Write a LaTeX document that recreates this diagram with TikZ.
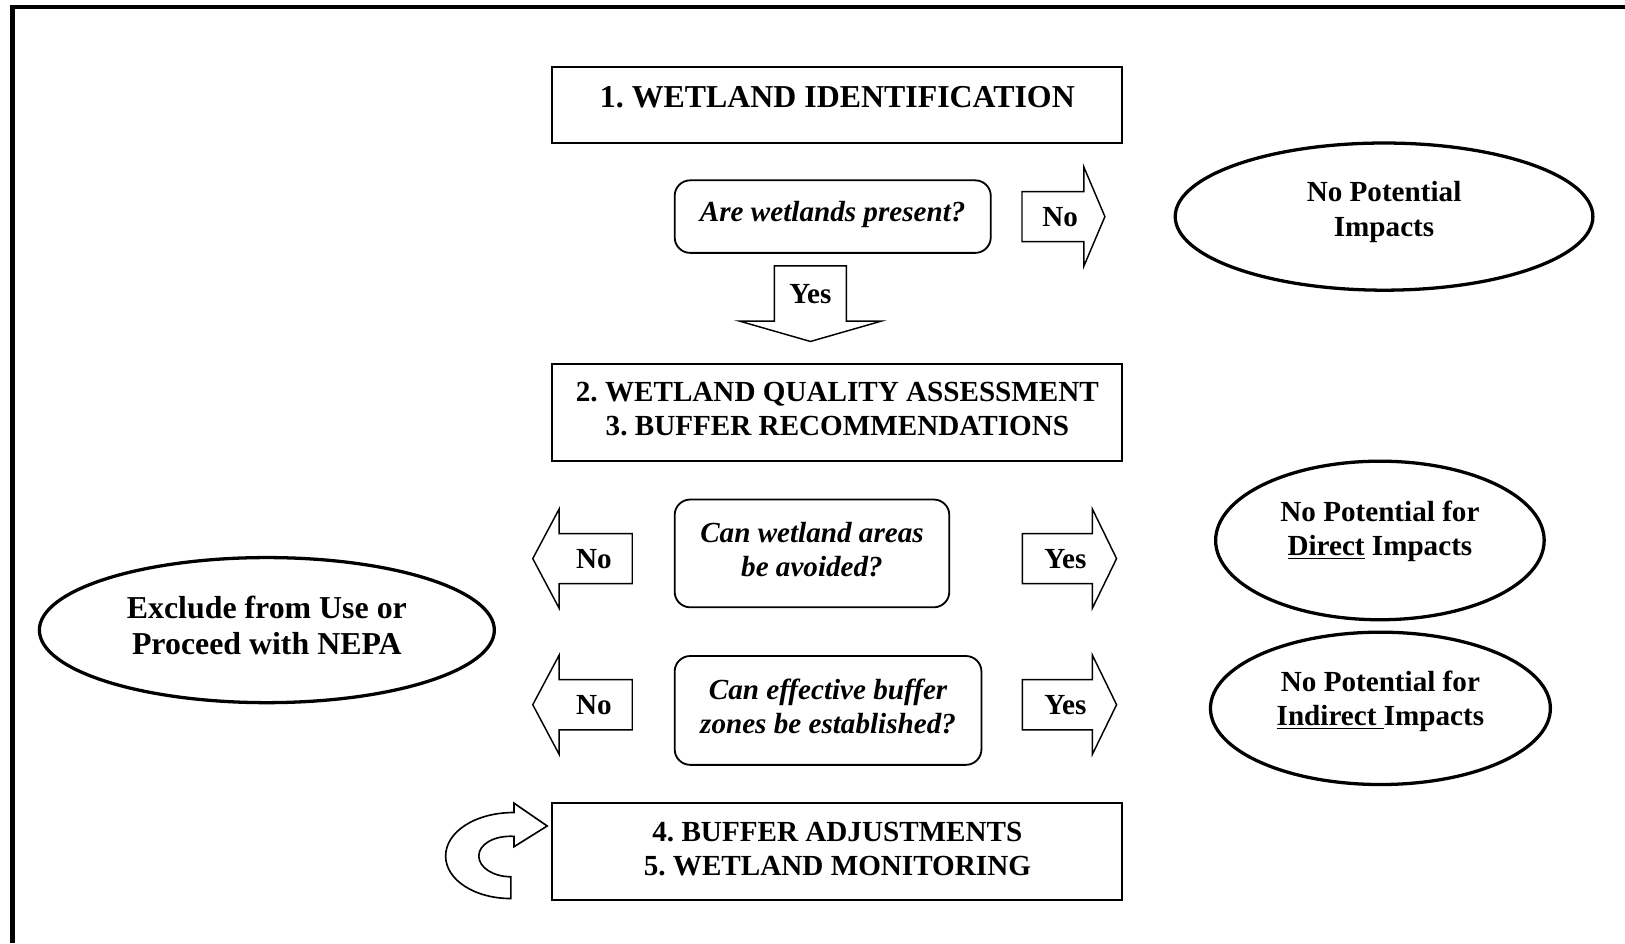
\documentclass[tikz,border=0pt]{standalone}
\usepackage{fontspec}
\setmainfont{Liberation Serif}
\usepackage{tikz}
\usetikzlibrary{
  shapes.geometric,
  shapes.arrows,
  positioning}
\frenchspacing

\tikzset{
  stage/.style={draw,line width=1.1pt,minimum width=110mm,inner sep=0pt},
  query/.style={draw,line width=1pt,rounded corners=3mm,inner sep=0pt},
  outcome/.style={draw,ellipse,line width=1.8pt,inner sep=0pt},
  txt/.style={font=\fontsize{16}{18.8}\selectfont\bfseries,align=center,inner sep=0pt},
  qtxt/.style={txt,font=\fontsize{16}{18.8}\selectfont\bfseries\itshape},
  bigtxt/.style={txt,font=\fontsize{17.5}{20}\selectfont\bfseries},
  blockarrow/.style={draw,single arrow,line width=0.8pt,inner xsep=0pt,inner ysep=4.7mm,
    minimum width=18.8mm,single arrow head extend=4.7mm,single arrow head indent=0pt},
  every label/.style={txt}
}

\begin{document}
\begin{tikzpicture}[x=0.2mm,y=-0.2mm]
        \useasboundingbox (0,0) rectangle (1568,910);
        \draw[line width=2.3pt] (12,910) -- (12,7) -- (1568,7);

        % stages
        \node[stage,minimum height=14.6mm] (ident) at (808,101.5) {};
        \node[bigtxt] (identT) at ([yshift=1.5mm]ident.center) {1. WETLAND IDENTIFICATION};
        \node[stage,minimum height=18.8mm] (assess) at (808,398) {};
        \node[txt] (assessT) at ([yshift=0.7mm]assess.center) {2. WETLAND QUALITY ASSESSMENT\\3. BUFFER RECOMMENDATIONS};
        \node[stage,minimum height=18.6mm] (monit) at (808,821.5) {};
        \node[txt] (monitT) at ([yshift=0.4mm]monit.center) {4. BUFFER ADJUSTMENTS\\5. WETLAND MONITORING};

        % questions
        \node[query,minimum width=61mm,minimum height=14mm] (present) at (803.5,209) {};
        \node[qtxt] (presentT) at ([yshift=0.4mm]present.center) {Are wetlands present?};
        \node[query,minimum width=53mm,minimum height=20.8mm] (avoid) at (783.5,534) {};
        \node[qtxt] (avoidT) at ([yshift=0.7mm]avoid.center) {Can wetland areas\\be avoided?};
        \node[query,minimum width=59.2mm,minimum height=21mm] (buffer) at (799,685.5) {};
        \node[qtxt] (bufferT) at ([yshift=0.8mm]buffer.center) {Can effective buffer\\zones be established?};

        % outcomes
        \node[outcome,minimum width=80.6mm,minimum height=28.4mm] (none) at (1335.5,209) {};
        \node[txt] (noneT) at ([yshift=0.9mm]none.center) {No Potential\\Impacts};
        \node[outcome,minimum width=63.4mm,minimum height=30.6mm] (direct) at (1331.5,521.5) {};
        \node[txt] (directT) at ([yshift=1.8mm]direct.center) {No Potential for\\\underline{Direct} Impacts};
        \node[outcome,minimum width=65.6mm,minimum height=29.4mm] (indirect) at (1332,683.5) {};
        \node[txt] (indirectT) at ([yshift=1.4mm]indirect.center) {No Potential for\\\underline{Indirect\ }Impacts};
        \node[outcome,minimum width=87.8mm,minimum height=28mm] (exclude) at (257.5,608) {};
        \node[bigtxt] (excludeT) at ([yshift=0.9mm]exclude.center) {Exclude from Use or\\Proceed with NEPA};

        % block arrows
        \node[blockarrow,minimum height=16mm,single arrow tip angle=134,
              label={[xshift=0.4mm]center:No}] (noA) at (1021,209) {};
        \node[blockarrow,inner xsep=6.8mm,inner ysep=0pt,minimum width=27.2mm,single arrow head extend=6.8mm,
              minimum height=14.6mm,single arrow tip angle=148,shape border rotate=270,
              label={[yshift=0.8mm]center:Yes}] (yesA) at (782,288) {};
        \foreach \r/\n in {539/B,680/C} {
            \node[blockarrow,minimum height=19.2mm,single arrow tip angle=124,shape border rotate=180,
                  label={[xshift=0.9mm]center:No}] (no\n) at (568.5,\r) {};
            \node[blockarrow,minimum height=18.2mm,single arrow tip angle=128,
                  label={[xshift=0.4mm]center:Yes}] (yes\n) at (1026,\r) {};
        }

        % loop back arrow
        \draw[line width=0.9pt]
            (496,784) .. controls (458,784) and (430,803) .. (430,826)
            .. controls (430,849) and (458,867) .. (493,867)
            -- (493,846)
            .. controls (476,846) and (462,837) .. (462,826)
            .. controls (462,815) and (476,806) .. (496,807)
            -- (496,817) -- (528,797) -- (496,775) -- cycle;
\end{tikzpicture}
\end{document}
